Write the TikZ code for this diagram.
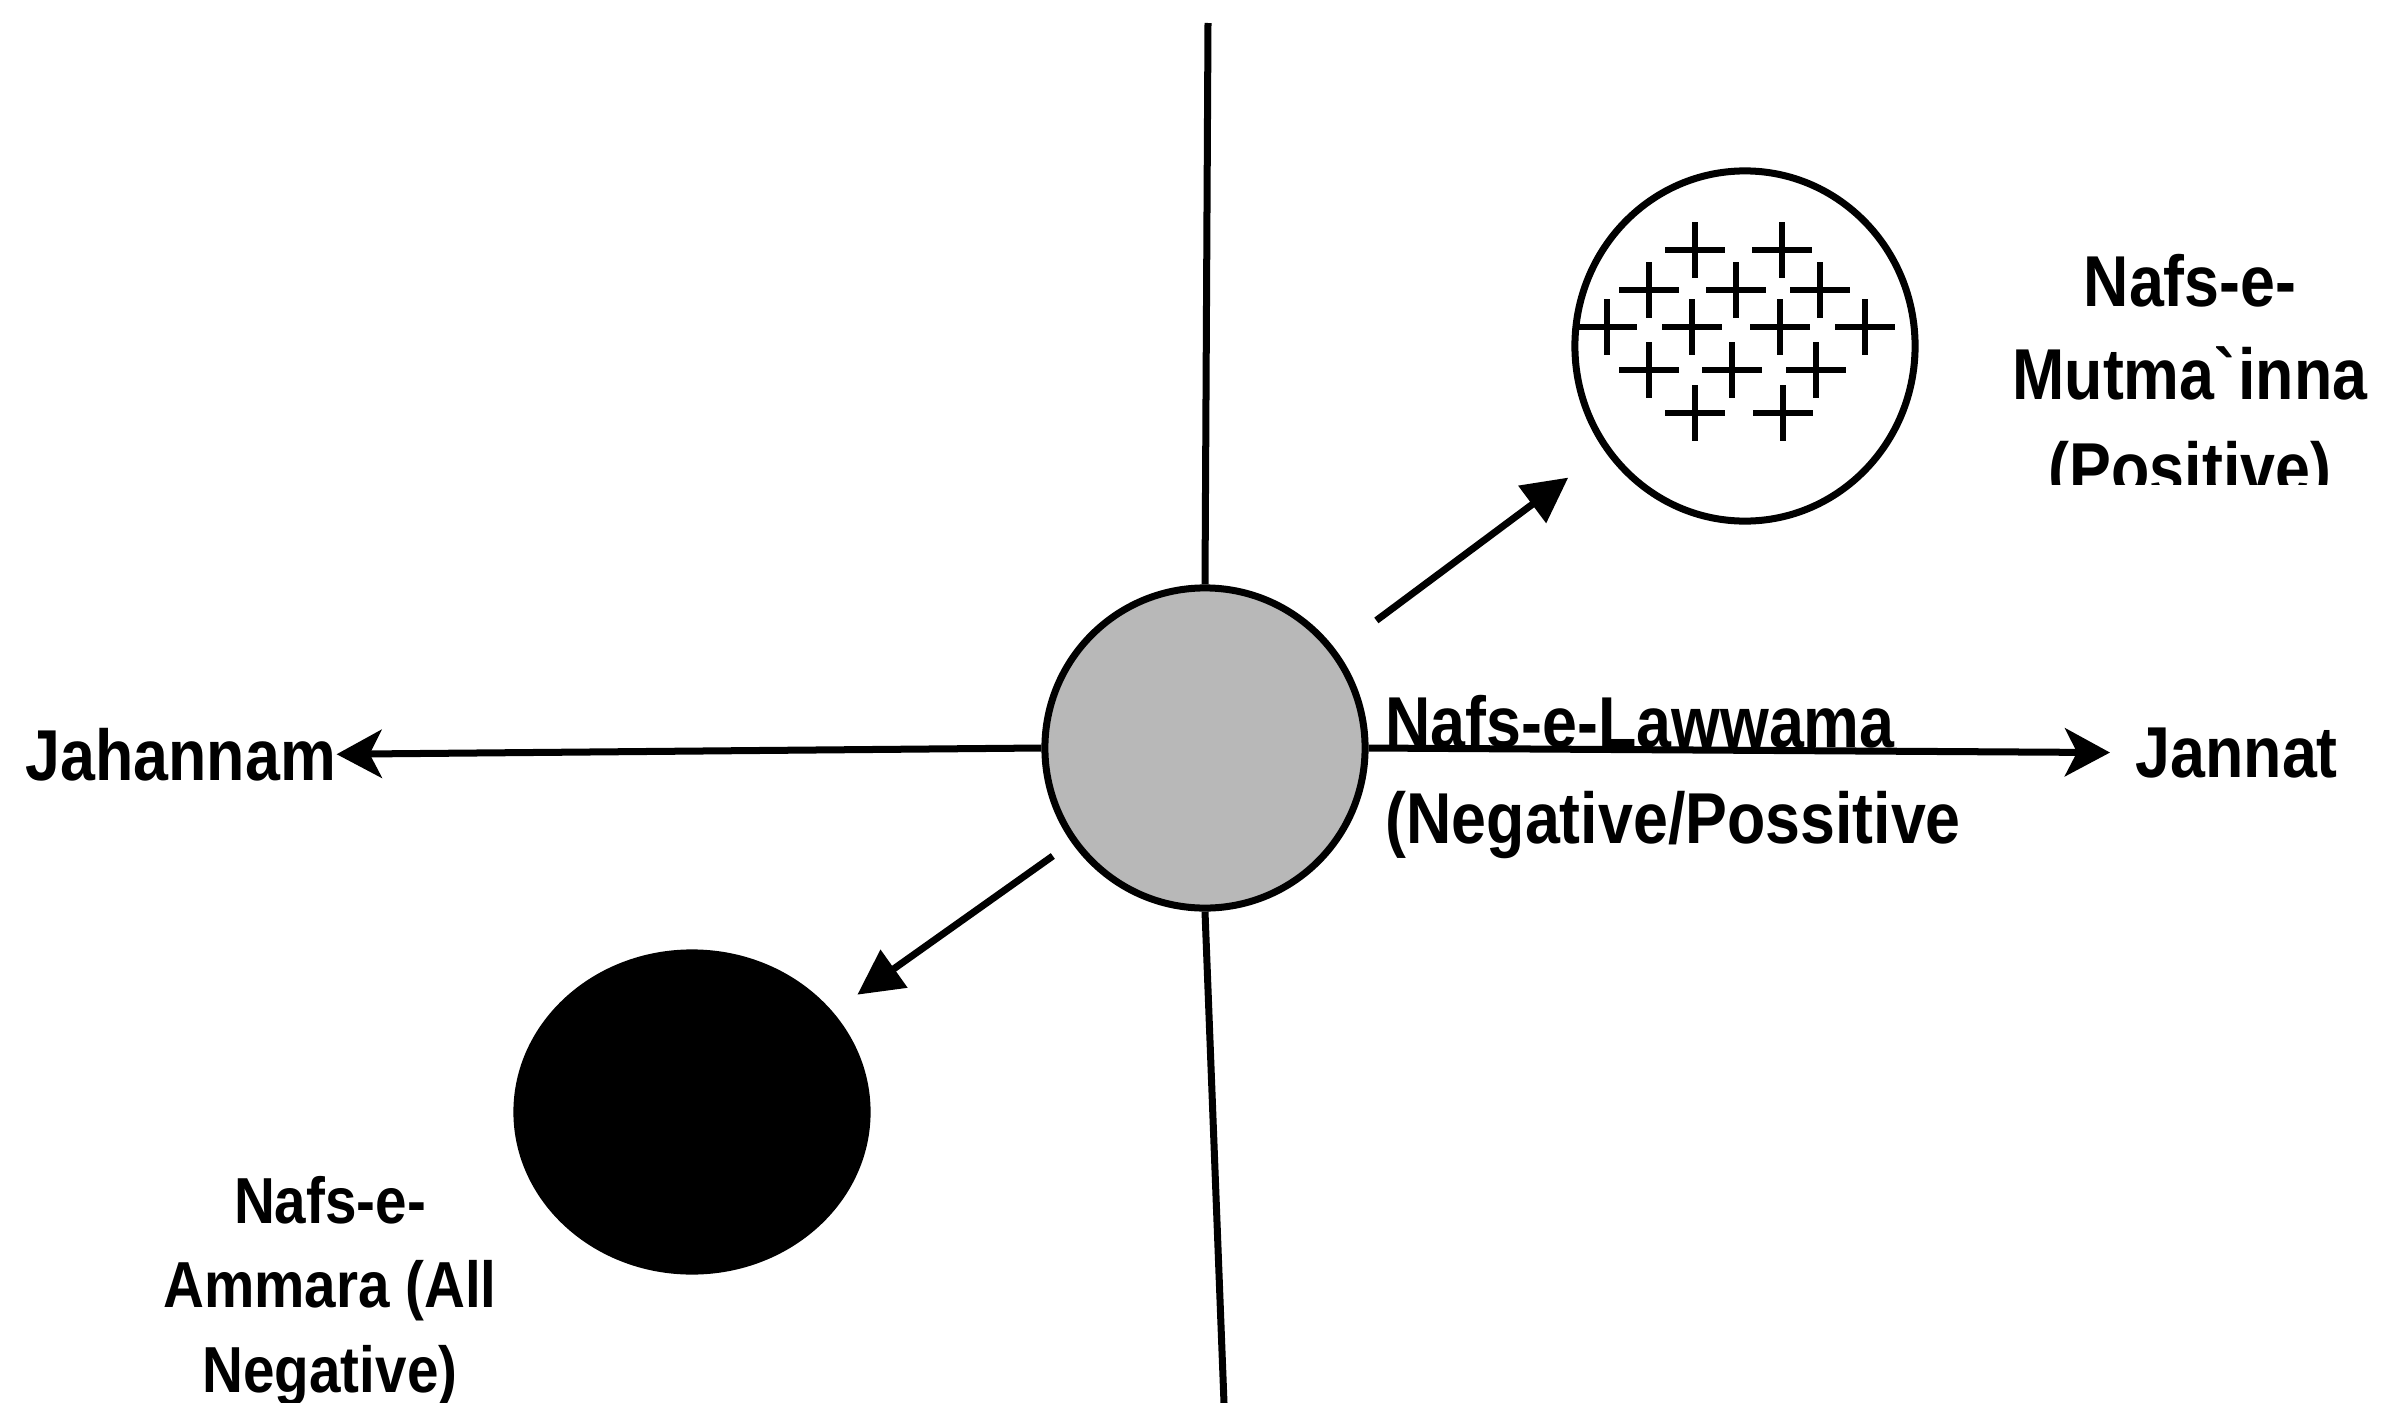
\documentclass[tikz,border=0pt]{standalone}
\usepackage{fontspec}
\setmainfont{Liberation Sans}[FakeStretch=0.87]
\usetikzlibrary{arrows.meta,shapes.geometric,positioning}

\begin{document}
\begin{tikzpicture}[
  x=0.01cm, y=-0.01cm,
  lbl/.style={font=\bfseries\fontsize{20.5}{26.5}\selectfont, inner sep=0pt},
  soul/.style={draw=black, line width=0.07cm, ellipse, inner sep=0pt},
  axis/.style={line width=0.07cm, black},
  heavy/.style={-{Stealth[length=0.45cm, width=0.48cm, inset=0.12cm]}, line width=0.07cm},
  tilt/.style={-{Triangle[length=0.45cm, width=0.45cm]}, line width=0.07cm},
  plus/.style={line width=0.055cm}
]
\useasboundingbox (0,0) rectangle (2384,1403);

% the three states of the nafs
\node[soul, fill=black!28, minimum width=3.2cm, minimum height=3.2cm] (lawwama) at (1205,748) {};
\node[soul, minimum width=3.4cm, minimum height=3.5cm] (mutma) at (1745,346) {};
\node[soul, fill=black, minimum width=3.5cm, minimum height=3.18cm] (ammara) at (692,1112) {};

\foreach \px/\py in {1695/250, 1782/250, 1649/290, 1736/290, 1820/290,
  1607/327, 1692/327, 1780/327, 1865/327, 1649/370, 1732/370, 1816/370,
  1695/413, 1783/413}
  \draw[plus] (\px-30,\py) -- (\px+30,\py) (\px,\py-28) -- (\px,\py+28);

% multi-line labels are anchored at the baseline of their last line
\node[lbl, anchor=base west] (hell) at (25,780) {Jahannam};
\node[lbl, anchor=base west] (heaven) at (2135,777) {Jannat};
\begin{scope}
  \clip (1900,150) rectangle (2384,484);
  \node[lbl, align=center, anchor=base] (mutmaname) at (2190,493) {Nafs-e-\\Mutma\textasciigrave inna\\(Positive)};
\end{scope}
\node[lbl, align=left, anchor=base west, font=\bfseries\fontsize{20.5}{27.3}\selectfont] (lawwamaname) at (1385,843) {Nafs-e-Lawwama\\(Negative/Possitive};
\node[lbl, align=center, anchor=base, font=\bfseries\fontsize{18.5}{24}\selectfont] (ammaraname) at (330,1392) {Nafs-e-\\Ammara (All\\Negative)};

% axes
\coordinate (axtop) at (1208,23);
\coordinate (axbot) at (1224,1403);
\draw[axis] (axtop) -- (lawwama.north);
\draw[axis] (lawwama.south) -- (axbot);
\draw[heavy] (lawwama.west) -- (hell.east);
\draw[heavy] (lawwama.east) -- ([xshift=-0.25cm]heaven.west);

\draw[tilt, shorten <=0.5cm, shorten >=0.45cm] (lawwama) -- (mutma);
\draw[tilt, shorten <=0.23cm, shorten >=0.3cm] (lawwama) -- (ammara);
\end{tikzpicture}
\end{document}
